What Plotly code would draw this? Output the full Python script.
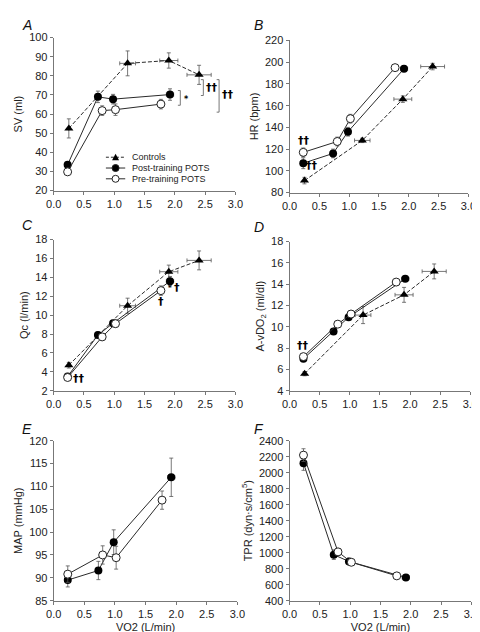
import plotly.graph_objects as go

# ---------------- data ----------------
ctrl_x = [0.25, 1.22, 1.90, 2.40]
ctrl_xerr = [None, 0.13, 0.15, 0.20]
post_x = [0.23, 0.73, 0.98, 1.92]
post_xerr = [None, None, None, 0.06]
pre_x = [0.23, 0.80, 1.02, 1.77]
pre_xerr = [None, None, None, 0.05]

# A: SV (ml)
sv_ctrl = [52.5, 86.5, 88.0, 80.5]
sv_ctrl_err = [5.0, 6.5, 4.0, 5.0]
sv_post = [33.5, 69.0, 67.8, 70.2]
sv_post_err = [1.2, 3.0, 2.5, 3.0]
sv_pre = [29.8, 61.8, 62.3, 65.2]
sv_pre_err = [1.0, 2.5, 3.0, 2.5]

# B: HR (bpm)
hr_ctrl = [91, 128, 166, 196]
hr_ctrl_err = [3, 2, 3, 3]
hr_post = [107, 116, 136, 194]
hr_post_err = [5, 4, 4, 2]
hr_pre = [117, 127, 148, 195]
hr_pre_err = [4, 4, 4, 2]

# C: Qc (l/min)
qc_ctrl = [4.7, 11.0, 14.6, 15.8]
qc_ctrl_err = [0.3, 0.8, 0.7, 1.0]
qc_post = [3.5, 7.9, 9.15, 13.6]
qc_post_err = [0.2, 0.3, 0.3, 0.5]
qc_pre = [3.4, 7.7, 9.1, 12.6]
qc_pre_err = [0.2, 0.3, 0.4, 0.5]

# D: A-vDO2 (ml/dl)
av_ctrl = [5.6, 11.1, 13.0, 15.2]
av_ctrl_err = [0.2, 0.8, 0.7, 0.7]
av_post = [7.0, 9.55, 10.9, 14.5]
av_post_err = [0.2, 0.2, 0.2, 0.2]
av_pre = [7.2, 10.25, 11.2, 14.2]
av_pre_err = [0.2, 0.3, 0.3, 0.3]

# E: MAP (mmHg)
map_post = [89.5, 91.6, 97.8, 112.0]
map_post_err = [1.5, 2.0, 2.7, 4.2]
map_pre = [90.8, 95.0, 94.4, 107.0]
map_pre_err = [1.8, 2.0, 2.5, 2.0]

# F: TPR (dyn·s/cm5)
tpr_post = [2120, 975, 890, 690]
tpr_post_err = [90, 60, 40, 30]
tpr_pre = [2220, 1010, 880, 710]
tpr_pre_err = [80, 40, 40, 30]

x_ticks = [0.0, 0.5, 1.0, 1.5, 2.0, 2.5, 3.0]
x_tick_text = ["0.0", "0.5", "1.0", "1.5", "2.0", "2.5", "3.0"]

legend_labels = ["Controls", "Post-training POTS", "Pre-training POTS"]

FONT = "Arial, Liberation Sans, sans-serif"
W, H = 480, 632

# panel pixel boxes: (left, right, top, bottom)
panels = {
    1: (39, 227, 24, 180),
    2: (283, 468, 27, 182),
    3: (39, 227, 230, 384),
    4: (283, 470, 232, 384),
    5: (39, 229, 435, 598),
    6: (283, 471, 435, 598),
}
yinfo = {
    1: ([20, 100], 10, "SV (ml)"),
    2: ([80, 220], 20, "HR (bpm)"),
    3: ([2, 18], 2, "Qc (l/min)"),
    4: ([4, 18], 2, "A-vDO<sub>2</sub> (ml/dl)"),
    5: ([85, 120], 5, "MAP (mmHg)"),
    6: ([400, 2400], 200, "TPR (dyn·s/cm<sup>5</sup>)"),
}

fig = go.Figure()

LINE_C = "#2a2a2a"
ERR_C = "#555555"
MS = 8


def add_series(i, xs, xerr, ys, yerr, kind):
    ax = "" if i == 1 else str(i)
    if kind == "ctrl":
        marker = dict(symbol="triangle-up", size=MS, color="black", line=dict(width=0))
        line = dict(color=LINE_C, width=1, dash="4px,2px")
    elif kind == "post":
        marker = dict(symbol="circle", size=MS, color="black", line=dict(width=0))
        line = dict(color=LINE_C, width=1)
    else:
        marker = dict(symbol="circle", size=MS, color="white", line=dict(width=1, color="#222"))
        line = dict(color=LINE_C, width=1)
    ex = [e if e is not None else 0 for e in xerr]
    fig.add_trace(go.Scatter(
        x=xs, y=ys, mode="lines+markers", showlegend=False,
        marker=marker, line=line,
        error_y=dict(type="data", array=yerr, color=ERR_C, thickness=0.8, width=2),
        error_x=dict(type="data", array=ex, color=ERR_C, thickness=0.8, width=2),
        xaxis="x" + ax, yaxis="y" + ax,
    ))


add_series(1, ctrl_x, ctrl_xerr, sv_ctrl, sv_ctrl_err, "ctrl")
add_series(1, post_x, post_xerr, sv_post, sv_post_err, "post")
add_series(1, pre_x, pre_xerr, sv_pre, sv_pre_err, "pre")

add_series(2, ctrl_x, ctrl_xerr, hr_ctrl, hr_ctrl_err, "ctrl")
add_series(2, post_x, post_xerr, hr_post, hr_post_err, "post")
add_series(2, pre_x, pre_xerr, hr_pre, hr_pre_err, "pre")

add_series(3, ctrl_x, ctrl_xerr, qc_ctrl, qc_ctrl_err, "ctrl")
add_series(3, post_x, post_xerr, qc_post, qc_post_err, "post")
add_series(3, pre_x, pre_xerr, qc_pre, qc_pre_err, "pre")

add_series(4, ctrl_x, ctrl_xerr, av_ctrl, av_ctrl_err, "ctrl")
add_series(4, post_x, post_xerr, av_post, av_post_err, "post")
add_series(4, pre_x, pre_xerr, av_pre, av_pre_err, "pre")

add_series(5, post_x, post_xerr, map_post, map_post_err, "post")
add_series(5, pre_x, pre_xerr, map_pre, map_pre_err, "pre")

add_series(6, post_x, post_xerr, tpr_post, tpr_post_err, "post")
add_series(6, pre_x, pre_xerr, tpr_pre, tpr_pre_err, "pre")

layout = dict(
    width=W, height=H, margin=dict(l=0, r=0, t=0, b=0),
    paper_bgcolor="white", plot_bgcolor="white",
    font=dict(family=FONT, size=11, color="#222"),
    showlegend=False,
)

for i, (l, r, t, b) in panels.items():
    ax = "" if i == 1 else str(i)
    rng, dt, title = yinfo[i]
    xa = dict(
        domain=[l / W, r / W], range=[0, 3.0], anchor="y" + ax,
        tickvals=x_ticks, ticktext=x_tick_text,
        showline=True, linecolor="#777", linewidth=1, ticks="outside",
        ticklen=3, tickcolor="#777", showgrid=False, zeroline=False,
        tickfont=dict(size=11, color="#222"),
    )
    if i in (5, 6):
        xa["title"] = dict(text="VO2 (L/min)", font=dict(size=11), standoff=4)
    layout["xaxis" + ax] = xa
    layout["yaxis" + ax] = dict(
        domain=[1 - b / H, 1 - t / H], range=rng, dtick=dt, tick0=rng[0],
        anchor="x" + ax, showline=True, linecolor="#777", linewidth=1,
        ticks="outside", ticklen=3, tickcolor="#777", showgrid=False,
        zeroline=False, tickfont=dict(size=11, color="#222"),
        title=dict(text=title, font=dict(size=11), standoff=4),
    )

fig.update_layout(**layout)

# ---------- custom compact legend (panel A) ----------
leg_rows = [146, 157, 168]
lx0, lx1, lmx, ltx = 93, 113, 103, 118
for k, (lab, py) in enumerate(zip(legend_labels, leg_rows)):
    yp = 1 - py / H
    fig.add_shape(type="line", xref="paper", yref="paper",
                  x0=lx0 / W, x1=lx1 / W, y0=yp, y1=yp,
                  line=dict(color=LINE_C, width=1, dash="3px,2px" if k == 0 else "solid"))
    if k == 0:
        fig.add_shape(type="path", xref="paper", yref="paper",
                      xsizemode="pixel", ysizemode="pixel",
                      xanchor=lmx / W, yanchor=yp,
                      path="M -3.5 -3 L 3.5 -3 L 0 3.5 Z",
                      fillcolor="black", line=dict(width=0))
    else:
        fig.add_shape(type="circle", xref="paper", yref="paper",
                      xsizemode="pixel", ysizemode="pixel",
                      xanchor=lmx / W, yanchor=yp,
                      x0=-3.5, x1=3.5, y0=-3.5, y1=3.5,
                      fillcolor="black" if k == 1 else "white",
                      line=dict(width=1, color="#222"))
    fig.add_annotation(text=lab, x=ltx / W, y=yp, xref="paper", yref="paper",
                       xanchor="left", yanchor="middle", showarrow=False,
                       font=dict(size=9, color="#222"))

# panel letters
for txt, px, py in [("A", 4, 1), ("B", 244, 1), ("C", 4, 205), ("D", 244, 207),
                    ("E", 4, 413), ("F", 244, 413)]:
    fig.add_annotation(text="<i>" + txt + "</i>", x=px / W, y=1 - py / H,
                       xref="paper", yref="paper", xanchor="left", yanchor="top",
                       showarrow=False, font=dict(size=14, color="#111"))


def note(i, x, y, t, size=11):
    ax = "" if i == 1 else str(i)
    fig.add_annotation(text="<b>" + t + "</b>", x=x, y=y, xref="x" + ax, yref="y" + ax,
                       showarrow=False,
                       font=dict(size=size, color="black", family="DejaVu Sans"))


def bracket(i, x, y0, y1, tip=0.04):
    ax = "" if i == 1 else str(i)
    fig.add_shape(type="path",
                  path=f"M {x - tip} {y1} L {x} {y1} L {x} {y0} L {x - tip} {y0}",
                  xref="x" + ax, yref="y" + ax,
                  line=dict(color="#555", width=0.8))


# Panel A significance marks
bracket(1, 2.09, 64.6, 72.3)
note(1, 2.19, 67.5, "*", 8)
bracket(1, 2.47, 69.7, 78.0)
note(1, 2.62, 74.0, "††")
bracket(1, 2.73, 61.0, 78.0)
note(1, 2.88, 70.0, "††")

# Panel B
note(2, 0.25, 128, "††")
note(2, 0.38, 105, "††")

# Panel C
note(3, 0.42, 3.3, "††")
note(3, 1.77, 11.45, "†")
note(3, 1.92, 12.9, "*", 7)
note(3, 2.03, 12.9, "†")

# Panel D
note(4, 0.23, 8.25, "††")

fig.write_html("out.html")
